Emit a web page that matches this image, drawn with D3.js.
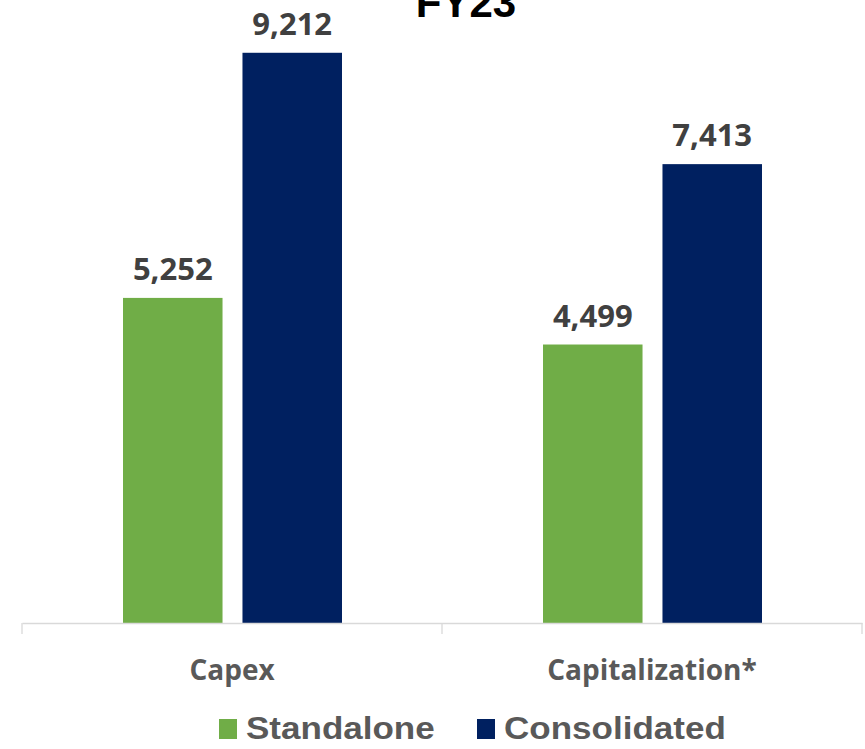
<!DOCTYPE html>
<html>
<head>
<meta charset="utf-8">
<script src="https://cdn.jsdelivr.net/npm/d3@7"></script>
<style>
  body { margin: 0; background: #fff; }
</style>
</head>
<body>
<script>
var categories = ["Capex", "Capitalization*"];
var seriesNames = ["Standalone", "Consolidated"];
var standalone = [5252, 4499];
var consolidated = [9212, 7413];
var colors = ["#70AD47", "#002060"];

var width = 865, height = 749;

var svg = d3.select("body").append("svg")
  .attr("width", width)
  .attr("height", height);

// main band for categories, inner band for the two series
var x0 = d3.scaleBand().domain(categories).range([22, 862]);
var x1 = d3.scaleBand().domain(seriesNames).range([101, 320]).paddingInner(0.167).paddingOuter(0);
var y = d3.scaleLinear().domain([0, 10000]).range([623, 4]);

var rows = categories.map(function(c, i) {
  return { cat: c, values: [standalone[i], consolidated[i]] };
});

// title, mostly clipped at the top (as in the source)
svg.append("text")
  .attr("x", 466)
  .attr("y", 17)
  .attr("text-anchor", "middle")
  .style("font-family", "'Liberation Sans', Arial, sans-serif")
  .style("font-weight", "bold")
  .style("font-size", "42px")
  .style("fill", "#000")
  .text("FY23");

var groups = svg.selectAll("g.cat")
  .data(rows)
  .enter().append("g")
  .attr("class", "cat")
  .attr("transform", function(d) { return "translate(" + x0(d.cat) + ",0)"; });

groups.selectAll("rect")
  .data(function(d) { return d.values.map(function(v, i) { return { name: seriesNames[i], value: v, i: i }; }); })
  .enter().append("rect")
  .attr("x", function(d) { return x1(d.name); })
  .attr("width", x1.bandwidth())
  .attr("y", function(d) { return y(d.value); })
  .attr("height", function(d) { return y(0) - y(d.value); })
  .style("fill", function(d) { return colors[d.i]; });

groups.selectAll("text.val")
  .data(function(d) { return d.values.map(function(v, i) { return { name: seriesNames[i], value: v }; }); })
  .enter().append("text")
  .attr("class", "val")
  .attr("x", function(d) { return x1(d.name) + x1.bandwidth() / 2; })
  .attr("y", function(d) { return y(d.value) - 18; })
  .attr("text-anchor", "middle")
  .style("font-family", "'Open Sans', sans-serif")
  .style("font-weight", "bold")
  .style("font-size", "31px")
  .style("fill", "#404040")
  .text(function(d) { return d3.format(",")(d.value); });

// category axis
var axis = svg.append("g")
  .attr("transform", "translate(0," + y(0) + ")")
  .call(d3.axisBottom(x0).tickSize(0).tickPadding(37));

axis.select(".domain").attr("stroke", "#d9d9d9").attr("stroke-width", 1.3);
axis.selectAll("text")
  .style("font-family", "'Open Sans', sans-serif")
  .style("font-weight", "bold")
  .style("font-size", "28px")
  .style("fill", "#595959");

// boundary tick marks between categories
var edges = [x0.range()[0]].concat(categories.map(function(c) { return x0(c) + x0.bandwidth(); }));
svg.selectAll("line.edge")
  .data(edges)
  .enter().append("line")
  .attr("x1", function(d) { return d; })
  .attr("x2", function(d) { return d; })
  .attr("y1", y(0))
  .attr("y2", y(0) + 11)
  .attr("stroke", "#d9d9d9")
  .attr("stroke-width", 1.3);

// legend
var legendItems = [
  { name: seriesNames[0], color: colors[0], x: 219 },
  { name: seriesNames[1], color: colors[1], x: 477 }
];
var legend = svg.selectAll("g.legend")
  .data(legendItems)
  .enter().append("g")
  .attr("class", "legend")
  .attr("transform", function(d) { return "translate(" + d.x + ",0)"; });

legend.append("rect")
  .attr("x", 0)
  .attr("y", 719)
  .attr("width", 18)
  .attr("height", 20)
  .style("fill", function(d) { return d.color; });

// the source text is slightly stretched horizontally
legend.append("text")
  .attr("transform", "translate(27,739) scale(1.13,1)")
  .style("font-family", "'Liberation Sans', Arial, sans-serif")
  .style("font-weight", "bold")
  .style("font-size", "31px")
  .style("fill", "#595959")
  .text(function(d) { return d.name; });
</script>
</body>
</html>
